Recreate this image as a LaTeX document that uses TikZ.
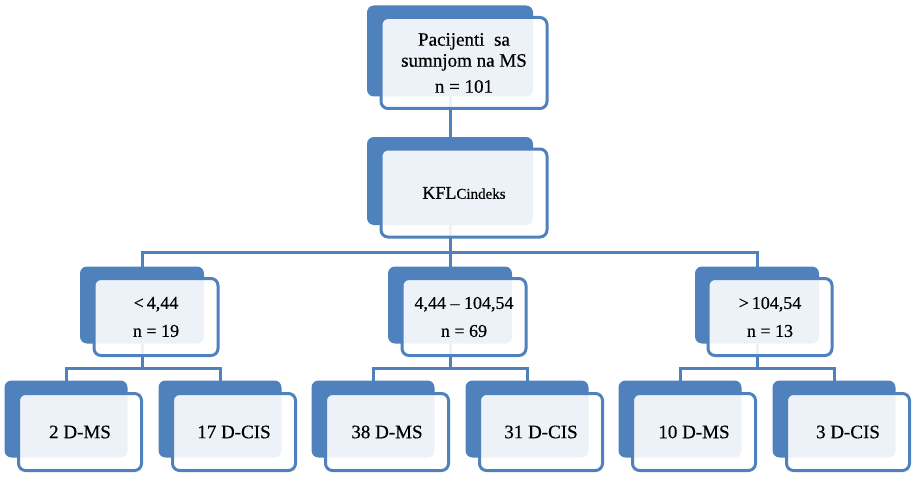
\documentclass[tikz,border=0pt]{standalone}
\usepackage{fontspec}
\setmainfont{Liberation Serif}[FakeBold=0.5]
\definecolor{smblue}{HTML}{4F81BD}

\begin{document}
\begin{tikzpicture}[x=1pt, y=-1pt,
            back/.style={rectangle, rounded corners=7pt, fill=smblue, inner sep=0pt, outer sep=0pt},
            front/.style={rectangle, rounded corners=7pt, draw=smblue, line width=3pt, fill=white, fill opacity=0.9, text opacity=1, inner sep=0pt, align=center},
            big/.style={minimum width=166pt, minimum height=91pt, font=\fontsize{19}{21}\selectfont},
            mid/.style={minimum width=124pt, minimum height=77pt, font=\fontsize{18}{21}\selectfont},
            small/.style={minimum width=123pt, minimum height=77pt, font=\fontsize{19}{22}\selectfont},
            conn/.style={draw=smblue, line width=3pt}]
    \useasboundingbox (0,0) rectangle (914,495);
    % back boxes
    \node[back, big] (topb) at (450,51) {};
    \node[back, big, minimum height=88pt] (kflcb) at (450,181) {};
    \node[back, mid] (lowb) at (142,305) {};
    \node[back, mid] (midb) at (450,305) {};
    \node[back, mid] (highb) at (757,305) {};
    \foreach \name/\x in {ams/66, acis/220, bms/373, bcis/527, cms/680, ccis/834}
        \node[back, small] (\name-bk) at (\x,419) {};
    % connectors
    \draw[conn] (topb.south) -- (kflcb.north);
    \draw[conn] (kflcb.south) -- (midb.north);
    \draw[conn] (kflcb.south) -- ++(0,27) -| (lowb.north);
    \draw[conn] (kflcb.south) -- ++(0,27) -| (highb.north);
    \draw[conn] (lowb.south) -- ++(0,25) -| (ams-bk.north);
    \draw[conn] (lowb.south) -- ++(0,25) -| (acis-bk.north);
    \draw[conn] (midb.south) -- ++(0,25) -| (bms-bk.north);
    \draw[conn] (midb.south) -- ++(0,25) -| (bcis-bk.north);
    \draw[conn] (highb.south) -- ++(0,25) -| (cms-bk.north);
    \draw[conn] (highb.south) -- ++(0,25) -| (ccis-bk.north);
    % front boxes
    \node[front, big] (top) at (464,63) {Pacijenti\enspace sa\\ sumnjom na MS\\[5pt] n = 101};
    \node[front, big, minimum height=88pt] (kflc) at (464,193) {\fontsize{18}{21}\selectfont KFL\fontsize{15}{18}\selectfont Cindeks};
    \node[front, mid] (low) at (156,317) {<\,4,44\\[7pt] n = 19};
    \node[front, mid] (midd) at (464,317) {4,44 – 104,54\\[7pt] n = 69};
    \node[front, mid] (high) at (770,317) {>\,104,54\\[7pt] n = 13};
    \foreach \name/\x/\txt in {ams/66/2 D-MS, acis/220/17 D-CIS, bms/373/38 D-MS, bcis/527/31 D-CIS, cms/680/10 D-MS, ccis/834/3 D-CIS}
        \node[front, small] (\name) at (\x+14,432) {\txt};
\end{tikzpicture}
\end{document}
